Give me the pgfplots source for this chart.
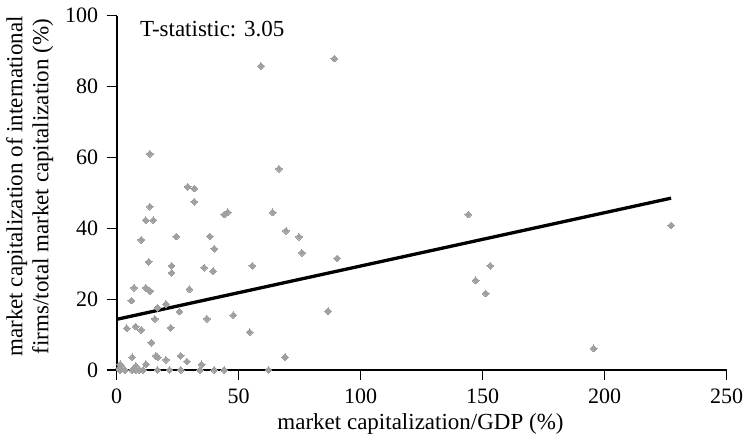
\documentclass[border=0pt]{standalone}
\usepackage{pgfplots}
\pgfplotsset{compat=1.18}
\usepackage{fontspec}
\setmainfont{Liberation Serif}
\definecolor{markgray}{RGB}{160,160,160}
\pgfplotstableread{
x y
29.1 51.7
31.8 51.2
31.8 47.5
13.6 46.1
11.9 42.3
15.0 42.3
44.1 43.9
45.5 44.5
63.9 44.5
10.1 36.7
24.4 37.7
38.2 37.7
40.0 34.2
69.4 39.3
74.7 37.6
75.9 33.1
90.3 31.5
13.1 30.5
22.5 29.4
22.5 27.4
35.8 28.9
39.5 27.9
55.6 29.4
7.1 23.2
11.9 23.2
13.6 22.3
6.0 19.6
29.8 22.8
16.7 17.6
20.2 18.6
25.7 16.5
15.6 14.4
37.0 14.5
47.8 15.5
86.6 16.6
4.1 11.8
7.8 12.3
10.1 11.3
22.1 11.9
54.5 10.7
14.2 7.7
6.4 3.6
16.1 4.0
16.8 3.6
20.2 2.9
26.2 4.0
28.8 2.4
69.0 3.6
34.8 1.6
12.0 1.6
7.8 1.1
1.4 1.6
2.0 1.1
1.1 0.5
1.4 0
3.4 0
6.4 0
7.8 0
9.3 0
10.9 0
16.7 0
21.6 0
26.2 0
34.1 0
40.0 0
44.1 0
62.2 0
59.1 85.8
89.2 87.9
13.6 61.0
66.5 56.8
144.1 43.9
153.1 29.4
147.1 25.3
151.2 21.6
227.2 40.8
195.5 6.1
}\scatterdata
\begin{document}
\begin{tikzpicture}
\begin{axis}[
  scale only axis,
  width=610bp, height=354.3bp,
  xmin=0, xmax=250, ymin=0, ymax=100,
  axis x line*=bottom, axis y line*=left,
  axis line style={line width=2bp, black},
  xtick={0,50,100,150,200,250},
  ytick={0,20,40,60,80,100},
  tick align=outside,
  major tick length=10bp,
  every tick/.style={line width=1.2bp, black},
  /pgf/number format/assume math mode=true,
  tick label style={font=\fontsize{22bp}{26bp}\selectfont},
  yticklabel style={xshift=-5bp},
  xticklabel style={yshift=-5bp},
  label style={font=\fontsize{23bp}{26bp}\selectfont},
  xlabel={market capitalization/GDP (\%)},
  xlabel style={at={(axis description cs:0.498,-0.1693)}, anchor=base, inner sep=0pt},
  ylabel={market capitalization of international\\firms/total market capitalization (\%)},
  ylabel style={align=center, at={(axis description cs:-0.1036,0.518)}, anchor=south, inner sep=0pt},
  clip=false,
]
\addplot[only marks, color=markgray, mark=square*, mark size=2.4bp, mark options={rotate=45, fill=markgray, draw=markgray, line width=0pt}] table[x=x,y=y] {\scatterdata};
\addplot[black, line width=3.3bp, no marks] coordinates {(0,14.3) (227.2,48.5)};
\node[anchor=base west, inner sep=0pt, font=\fontsize{23bp}{26bp}\selectfont] at (axis cs:9.5,94.1) {T-statistic: 3.05};
\end{axis}
\pgfresetboundingbox
\path[use as bounding box] (-116.7bp,-74bp) rectangle (627.3bp,370bp);
\end{tikzpicture}
\end{document}
